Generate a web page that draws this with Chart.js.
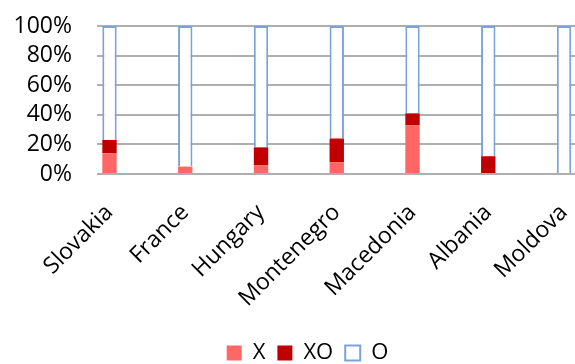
<!DOCTYPE html>
<html>
<head>
<meta charset="utf-8">
<script src="https://cdn.jsdelivr.net/npm/chart.js@4/dist/chart.umd.min.js"></script>
<style>
  html, body { margin: 0; padding: 0; background: #fff; overflow: hidden; }
  #wrap { width: 575px; height: 364px; overflow: hidden; }
  #c { display: block; }
</style>
</head>
<body>
<div id="wrap"><canvas id="c" width="615" height="364"></canvas></div>
<script>
// Share of responses per country (percent, stacked to 100)
const countries = ['Slovakia', 'France', 'Hungary', 'Montenegro', 'Macedonia', 'Albania', 'Moldova'];
const xShare  = [14, 5, 6, 8, 33, 0, 0];
const xoShare = [9, 0, 12, 16, 8, 12, 0];
const oShare  = [77, 95, 82, 76, 59, 88, 100];
const percentTicks = [0, 20, 40, 60, 80, 100];

const FONT = "'Open Sans', 'DejaVu Sans', sans-serif";

const toPoints = arr => arr.map((v, i) => ({ x: i, y: v }));

// The canvas is a little wider than its frame, so the plot runs on past
// the right edge: gridlines reach the border and the last bar sits close to it.
new Chart(document.getElementById('c'), {
  type: 'bar',
  data: {
    datasets: [
      { label: 'X',  data: toPoints(xShare),  backgroundColor: '#FF6666', borderWidth: 0 },
      { label: 'XO', data: toPoints(xoShare), backgroundColor: '#C00000', borderWidth: 0 },
      { label: 'O',  data: toPoints(oShare),  backgroundColor: '#FFFFFF', borderColor: '#7BA3D8', borderWidth: 2 }
    ]
  },
  options: {
    responsive: false,
    animation: false,
    devicePixelRatio: 1,
    layout: { padding: { left: 0, right: 0, top: 26, bottom: -10 } },
    datasets: { bar: { barPercentage: 0.19, categoryPercentage: 1.0 } },
    scales: {
      x: {
        type: 'linear',
        stacked: true,
        offset: false,
        min: -0.165,
        max: 6.673,
        afterBuildTicks: s => { s.ticks = countries.map((_, i) => ({ value: i })); },
        grid: { display: false, offset: false },
        border: { display: false },
        ticks: {
          callback: v => countries[v],
          minRotation: 45, maxRotation: 45,
          autoSkip: false,
          color: '#000',
          font: { family: FONT, size: 23 },
          padding: 17
        },
        afterFit: s => { s.height = 156; s.paddingLeft = 0; s.paddingRight = 0; }
      },
      y: {
        stacked: true,
        min: 0, max: 100,
        afterBuildTicks: s => { s.ticks = percentTicks.map(v => ({ value: v })); },
        grid: { color: '#AFAFAF', lineWidth: 2, drawTicks: false },
        border: { display: false },
        ticks: {
          autoSkip: false,
          callback: v => v + '%',
          color: '#000',
          font: { family: FONT, size: 23 },
          padding: 25
        },
        afterFit: s => { s.width = 97; s.paddingTop = 0; s.paddingBottom = 0; }
      }
    },
    plugins: {
      legend: {
        position: 'bottom',
        labels: {
          color: '#000',
          font: { family: FONT, size: 22 },
          boxWidth: 15, boxHeight: 15,
          padding: 12,
          useBorderRadius: false
        }
      },
      tooltip: { enabled: false }
    }
  }
});
</script>
</body>
</html>
